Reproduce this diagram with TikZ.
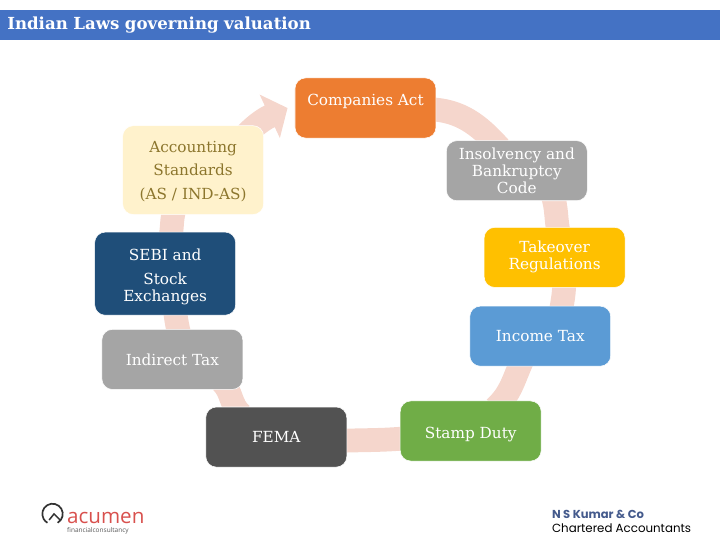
\documentclass[tikz,border=0pt]{standalone}
\usepackage{fontspec}
\setmainfont{DejaVu Serif}
\newfontfamily\logofont{Open Sans}
\newfontfamily\footfont{Poppins}
\usetikzlibrary{arrows.meta,positioning,backgrounds}

\definecolor{barblue}{HTML}{4472C4}
\definecolor{ringpink}{HTML}{F5D6CC}
\definecolor{acumenred}{HTML}{D8504D}
\definecolor{boxorange}{HTML}{ED7D31}
\definecolor{boxgray}{HTML}{A5A5A5}
\definecolor{boxamber}{HTML}{FFC000}
\definecolor{boxblue}{HTML}{5B9BD5}
\definecolor{boxgreen}{HTML}{70AD47}
\definecolor{boxdark}{HTML}{525252}
\definecolor{boxnavy}{HTML}{1F4E79}
\definecolor{boxcream}{HTML}{FFF2CC}
\definecolor{creamtext}{HTML}{8C762D}
\definecolor{kumarblue}{HTML}{445A8C}

\begin{document}
\begin{tikzpicture}[
  font=\fontsize{11.5}{13}\selectfont,
  box/.style={rounded corners=2.8mm,draw=white,line width=0.4pt,align=center,text=white,minimum height=15.9mm,minimum width=37.3mm,inner sep=0pt},
  ring/.style={draw=ringpink,line width=6.3mm},
  logotxt/.style={inner sep=0pt,anchor=west},
]
\useasboundingbox (0,0) rectangle (190.5mm,142.875mm);

% title bar
\node[fill=barblue,text=white,anchor=north west,minimum height=7.9mm,text width=186.8mm,inner xsep=1.85mm,inner ysep=0pt,align=left,font=\fontsize{12.5}{13}\selectfont\bfseries] (title) at (0mm,140.2mm) {Indian Laws governing valuation};

% boxes, clockwise from the top
\node[box,fill=boxorange] (companies) at (96.7mm,114.3mm) {Companies Act\\[0pt]\mbox{}};
\node[box,fill=boxgray,below right=0.55mm and 2.6mm of companies] (insolvency) {Insolvency and\\ Bankruptcy\\ Code};
\node[box,fill=boxamber,below=6.9mm of insolvency,xshift=10mm] (takeover) {Takeover\\ Regulations\\[-9.2pt]\mbox{}};
\node[box,fill=boxblue,below=4.8mm of takeover,xshift=-3.8mm] (income) {Income Tax};
\node[box,fill=boxgreen,below=9.05mm of income,xshift=-18.4mm] (stamp) {\rule{0pt}{13.5pt}Stamp Duty};
\node[box,fill=boxdark,left=14mm of stamp,yshift=-1.6mm] (fema) {FEMA};
\node[box,fill=boxgray,above=4.5mm of fema,xshift=-27.5mm] (indirect) {Indirect Tax};
\node[box,fill=boxnavy,minimum height=22mm,above=3.6mm of indirect,xshift=-1.9mm] (sebi) {\rule{0pt}{13.5pt}SEBI and\\[5pt] Stock\\ Exchanges};
\node[box,fill=boxcream,text=creamtext,minimum height=23.5mm,above=4.5mm of sebi,xshift=7.4mm] (standards) {\rule{0pt}{10.5pt}Accounting\\[5pt] Standards\\[5pt] (AS / IND-AS)};

% ring behind the boxes
\begin{scope}[on background layer]
\draw[ring] ([yshift=-0.3mm,xshift=-2mm]companies.east) to[out=-2,in=132] ([shift={(-4.5mm,-2mm)}]insolvency.north);
\draw[ring] ([shift={(9.3mm,2mm)}]insolvency.south) to[out=-70,in=104] ([shift={(1.2mm,-2mm)}]takeover.north);
\draw[ring] ([shift={(2.5mm,2mm)}]takeover.south) to[out=-88,in=82] ([shift={(5.4mm,-2mm)}]income.north);
\draw[ring] ([shift={(-4.6mm,2mm)}]income.south) to[out=-115,in=42] ([shift={(6.4mm,-2mm)}]stamp.north);
\draw[ring] ([shift={(2mm,-1.9mm)}]stamp.west) to[out=185,in=2] ([shift={(-2mm,-1mm)}]fema.east);
\draw[ring] ([shift={(-9.3mm,-2mm)}]fema.north) to[out=140,in=-45] ([shift={(13.2mm,2mm)}]indirect.south);
\draw[ring] ([shift={(2mm,-2mm)}]indirect.north) to[out=105,in=-82] ([shift={(2.5mm,2mm)}]sebi.south);
\draw[ring] ([shift={(1.3mm,-2mm)}]sebi.north) to[out=78,in=-108] ([shift={(-4.8mm,2mm)}]standards.south);
\draw[ring,-{Triangle[length=5.2mm,width=12.4mm]}] ([shift={(13.5mm,-3mm)}]standards.north) to[out=48,in=205] ([xshift=-1.9mm]companies.west);
\end{scope}

% logo
\node[logotxt,font=\logofont\fontsize{15.5}{16}\selectfont,text=acumenred] (acumen) at (17.7mm,5.7mm) {acumen};
\node[logotxt,font=\logofont\fontsize{4.9}{5}\selectfont,text=black!65,anchor=north west] (consult) at ([yshift=-0.7mm]acumen.south west) {financialconsultancy};
\draw[black!80,line width=0.45mm] (15.25mm,4.56mm) arc[start angle=-60,end angle=240,radius=2.7mm];
\draw[black!80,line width=0.4mm] (13mm,5.3mm) -- (14.3mm,6.9mm) -- (15.9mm,5.3mm);

% footer
\node[logotxt,font=\footfont\fontsize{8.7}{9}\selectfont\bfseries,text=kumarblue] (kumar) at (146mm,6.8mm) {N S Kumar \& Co};
\node[logotxt,font=\footfont\fontsize{8.9}{9}\selectfont,text=black] (chartered) at (146mm,3.1mm) {Chartered Accountants};

\end{tikzpicture}
\end{document}
